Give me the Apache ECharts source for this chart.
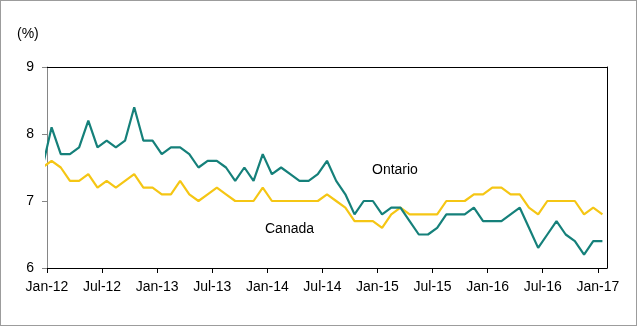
<!DOCTYPE html>
<html>
<head>
<meta charset="utf-8">
<script src="https://cdn.jsdelivr.net/npm/echarts@6/dist/echarts.min.js"></script>
<style>
  html, body { margin: 0; padding: 0; background: #fff; }
  #wrap { position: relative; width: 637px; height: 326px; }
  #chart { width: 637px; height: 326px; }
  #frame { position: absolute; left: 0; top: 0; width: 637px; height: 326px;
           box-sizing: border-box; border: 1px solid #9c9c9c; pointer-events: none; }
</style>
</head>
<body>
<div id="wrap"><div id="chart"></div><div id="frame"></div></div>
<script>
// Monthly unemployment rate (%), Dec-11 lead-in through Jan-17
const months = ['Dec-11',
  'Jan-12','Feb-12','Mar-12','Apr-12','May-12','Jun-12','Jul-12','Aug-12','Sep-12','Oct-12','Nov-12','Dec-12',
  'Jan-13','Feb-13','Mar-13','Apr-13','May-13','Jun-13','Jul-13','Aug-13','Sep-13','Oct-13','Nov-13','Dec-13',
  'Jan-14','Feb-14','Mar-14','Apr-14','May-14','Jun-14','Jul-14','Aug-14','Sep-14','Oct-14','Nov-14','Dec-14',
  'Jan-15','Feb-15','Mar-15','Apr-15','May-15','Jun-15','Jul-15','Aug-15','Sep-15','Oct-15','Nov-15','Dec-15',
  'Jan-16','Feb-16','Mar-16','Apr-16','May-16','Jun-16','Jul-16','Aug-16','Sep-16','Oct-16','Nov-16','Dec-16',
  'Jan-17'];

const ontario = [7.5,
  8.1, 7.7, 7.7, 7.8, 8.2, 7.8, 7.9, 7.8, 7.9, 8.4, 7.9, 7.9,
  7.7, 7.8, 7.8, 7.7, 7.5, 7.6, 7.6, 7.5, 7.3, 7.5, 7.3, 7.7,
  7.4, 7.5, 7.4, 7.3, 7.3, 7.4, 7.6, 7.3, 7.1, 6.8, 7.0, 7.0,
  6.8, 6.9, 6.9, 6.7, 6.5, 6.5, 6.6, 6.8, 6.8, 6.8, 6.9, 6.7,
  6.7, 6.7, 6.8, 6.9, 6.6, 6.3, 6.5, 6.7, 6.5, 6.4, 6.2, 6.4,
  6.4];

const canada = [7.5,
  7.6, 7.5, 7.3, 7.3, 7.4, 7.2, 7.3, 7.2, 7.3, 7.4, 7.2, 7.2,
  7.1, 7.1, 7.3, 7.1, 7.0, 7.1, 7.2, 7.1, 7.0, 7.0, 7.0, 7.2,
  7.0, 7.0, 7.0, 7.0, 7.0, 7.0, 7.1, 7.0, 6.9, 6.7, 6.7, 6.7,
  6.6, 6.8, 6.9, 6.8, 6.8, 6.8, 6.8, 7.0, 7.0, 7.0, 7.1, 7.1,
  7.2, 7.2, 7.1, 7.1, 6.9, 6.8, 7.0, 7.0, 7.0, 7.0, 6.8, 6.9,
  6.8];

const yTicks = [6, 7, 8, 9];

// Month index i sits in the middle of its band; ticks fall on band edges at Jan/Jul
const tickEdges = months
  .map((m, i) => (i > 0 && (m.startsWith('Jan') || m.startsWith('Jul'))) ? i - 0.5 : null)
  .filter(v => v !== null);

const toPairs = arr => arr.map((v, i) => [i, v]);
const FONT = '"Liberation Sans", Arial, sans-serif';

const chart = echarts.init(document.getElementById('chart'), null, { renderer: 'canvas' });
chart.setOption({
  animation: false,
  backgroundColor: '#fff',
  grid: { left: 47, top: 67, right: 30, bottom: 58, containLabel: false },
  graphic: [
    { type: 'text', left: 17, top: 27,
      style: { text: '(%)', font: '14px ' + FONT, fill: '#000' } },
    { type: 'text', left: 372, top: 163,
      style: { text: 'Ontario', font: '14px ' + FONT, fill: '#000' } },
    { type: 'text', left: 265, top: 222,
      style: { text: 'Canada', font: '14px ' + FONT, fill: '#000' } }
  ],
  xAxis: [
    {
      type: 'value', min: 0.5, max: months.length - 0.5,
      axisLine: { show: true, onZero: false, lineStyle: { color: '#000', width: 1 } },
      axisTick: { show: true, inside: false, length: 5, customValues: tickEdges,
                  lineStyle: { color: '#000', width: 1 } },
      axisLabel: { show: true, customValues: tickEdges, margin: 12,
                   color: '#000', fontSize: 14, fontFamily: FONT,
                   formatter: v => months[Math.round(v + 0.5)] || '' },
      splitLine: { show: false }
    },
    {
      type: 'value', position: 'top', min: 0.5, max: months.length - 0.5,
      axisLine: { show: true, onZero: false, lineStyle: { color: '#000', width: 1 } },
      axisTick: { show: false }, axisLabel: { show: false }, splitLine: { show: false }
    }
  ],
  yAxis: [
    {
      type: 'value', min: yTicks[0], max: yTicks[yTicks.length - 1], interval: 1,
      axisLine: { show: true, onZero: false, lineStyle: { color: '#868686', width: 1 } },
      axisTick: { show: true, length: 5, lineStyle: { color: '#868686', width: 1 } },
      axisLabel: { color: '#000', fontSize: 14, fontFamily: FONT, margin: 13 },
      splitLine: { show: false }
    },
    {
      type: 'value', position: 'right', min: yTicks[0], max: yTicks[yTicks.length - 1],
      axisLine: { show: true, onZero: false, lineStyle: { color: '#000', width: 1 } },
      axisTick: { show: false }, axisLabel: { show: false }, splitLine: { show: false }
    }
  ],
  series: [
    {
      name: 'Canada', type: 'line', data: toPairs(canada),
      xAxisIndex: 0, yAxisIndex: 0, clip: true,
      symbol: 'none', lineStyle: { color: '#f5c614', width: 2.2 }
    },
    {
      name: 'Ontario', type: 'line', data: toPairs(ontario),
      xAxisIndex: 0, yAxisIndex: 0, clip: true,
      symbol: 'none', lineStyle: { color: '#15807a', width: 2.2 }
    }
  ]
});
</script>
</body>
</html>
